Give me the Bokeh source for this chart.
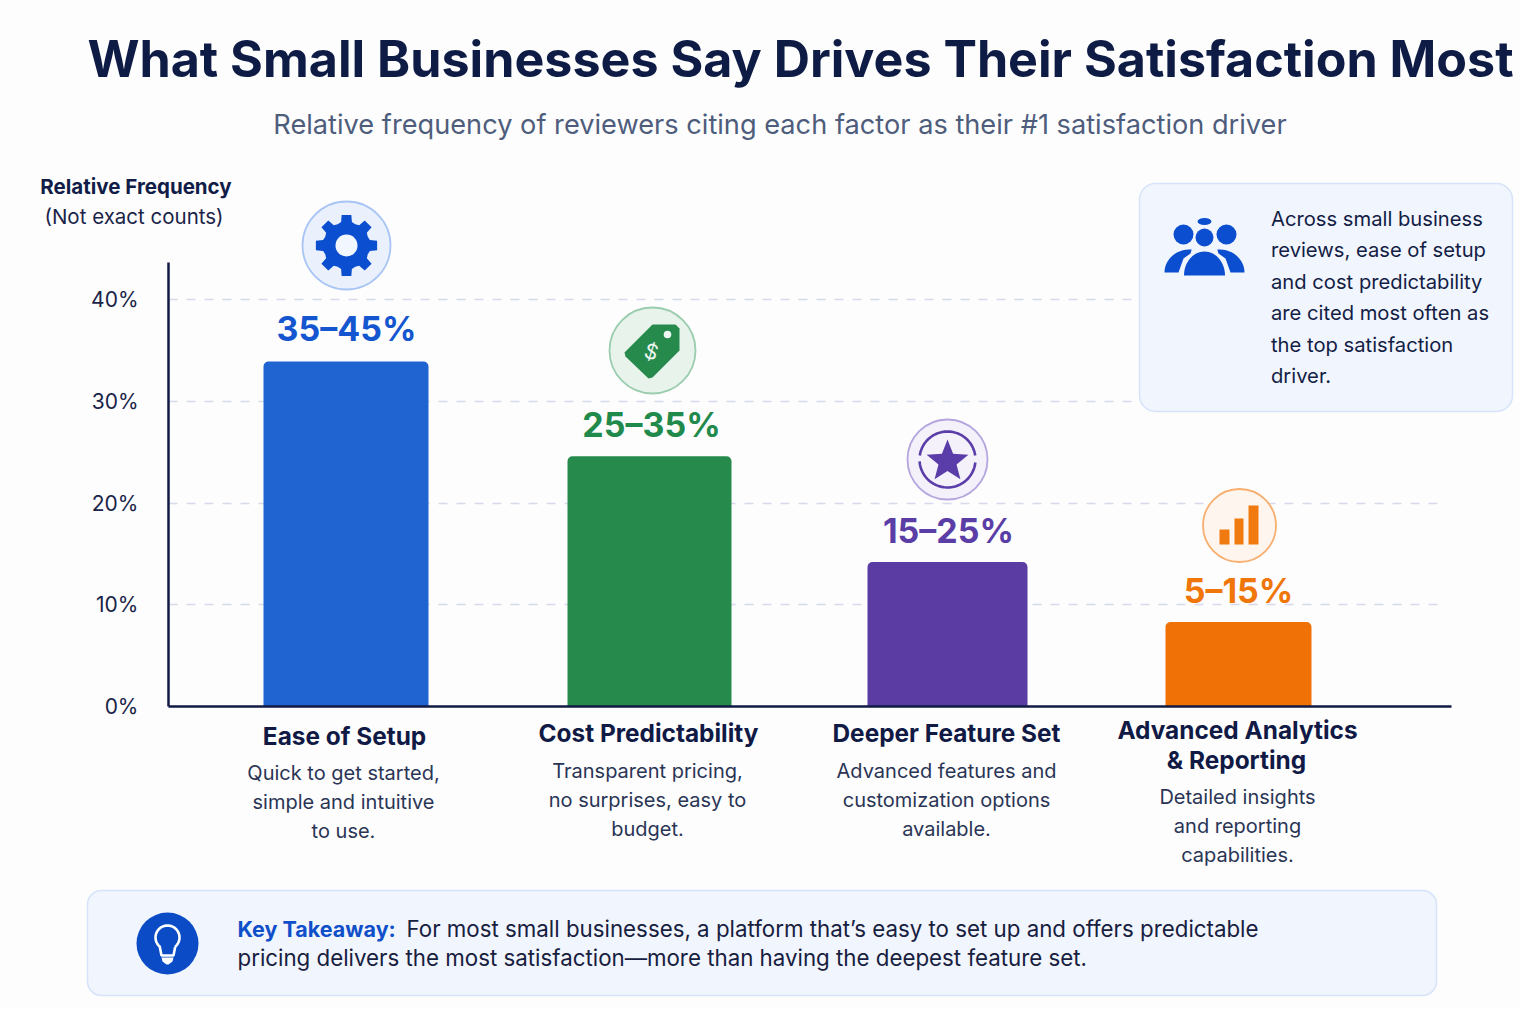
import math
from bokeh.plotting import figure
from bokeh.embed import file_html
from bokeh.resources import INLINE
from bokeh.core.properties import value
from bokeh.models import FixedTicker, PrintfTickFormatter, Range1d

categories = ["Ease of Setup", "Cost Predictability", "Deeper Feature Set", "Advanced Analytics"]
bar_values = [33.9, 24.6, 14.2, 8.3]
range_labels = ["35–45%", "25–35%", "15–25%", "5–15%"]
bar_colors = ["#1f64d0", "#268a4c", "#5a3ca2", "#f07207"]
label_colors = ["#1456cf", "#1f8a4c", "#5a3ea6", "#f0760a"]
y_ticks = [0, 10, 20, 30, 40]
grid_ticks = [10, 20, 30, 40]
descriptions = [
    ["Quick to get started,", "simple and intuitive", "to use."],
    ["Transparent pricing,", "no surprises, easy to", "budget."],
    ["Advanced features and", "customization options", "available."],
    ["Detailed insights", "and reporting", "capabilities."],
]
callout_lines = ["Across small business", "reviews, ease of setup", "and cost predictability",
                 "are cited most often as", "the top satisfaction", "driver."]

FONT = "Inter"
INK = "#101a45"
BLUE = "#0b4fd0"
ZERO_PX, PX_PER_UNIT = 706.0, 10.175
def Y(px):
    return (ZERO_PX - px) / PX_PER_UNIT

p = figure(width=1520, height=1008, output_backend="svg", toolbar_location=None,
           x_range=Range1d(0, 1520), y_range=Range1d(Y(1008), Y(0)), min_border=0)
p.background_fill_color = "#fdfdfe"
p.border_fill_color = "#fdfdfe"
p.outline_line_color = None
p.xgrid.visible = False
p.ygrid.ticker = FixedTicker(ticks=grid_ticks)
p.ygrid.grid_line_color = "#d6daea"
p.ygrid.grid_line_dash = "9 9"
p.ygrid.grid_line_width = 1.5
p.ygrid.cross_bounds = (168, 1438)

p.yaxis.fixed_location = 168
p.yaxis.bounds = (0, Y(262))
p.yaxis.ticker = FixedTicker(ticks=y_ticks)
p.yaxis.formatter = PrintfTickFormatter(format="%d%%")
p.yaxis.major_tick_line_color = None
p.yaxis.minor_tick_line_color = None
p.yaxis.major_label_standoff = 24
p.yaxis.major_label_text_font = FONT
p.yaxis.major_label_text_font_size = "21px"
p.yaxis.major_label_text_color = "#1a2448"
p.yaxis.axis_line_color = INK
p.yaxis.axis_line_width = 2.5

p.xaxis.fixed_location = 0
p.xaxis.bounds = (168, 1451)
p.xaxis.ticker = FixedTicker(ticks=[])
p.xaxis.major_tick_line_color = None
p.xaxis.minor_tick_line_color = None
p.xaxis.axis_line_color = INK
p.xaxis.axis_line_width = 2.5


def txt(x, ypx, s, size, color, weight="normal", align="center", angle=0, style=None):
    fs = style or weight
    p.text(x=[x], y=[Y(ypx - 1)], text=[s], text_font=value(FONT), text_font_size=f"{size}px",
           text_color=color, text_font_style=fs, text_align=align, text_baseline="middle", angle=angle)


def box(l, r, t, b, radius):
    p.quad(left=[l], right=[r], top=[Y(t)], bottom=[Y(b)], fill_color="#f1f5fd",
           line_color="#d6e3f9", line_width=1.5, border_radius=radius)


def poly(pts, color):
    p.patch([a for a, _ in pts], [Y(b) for _, b in pts], fill_color=color, line_color=None)


def ring(cx, cy, r, fill, stroke, width=1.8):
    p.circle([cx], [Y(cy)], radius=r, fill_color=fill, line_color=stroke, line_width=width)


def arc_pts(cx, cy, rx, ry, a0, a1, n=30):
    return [(cx + rx * math.cos(math.radians(a0 + (a1 - a0) * i / n)),
             cy - ry * math.sin(math.radians(a0 + (a1 - a0) * i / n))) for i in range(n + 1)]


# panels
box(1139, 1512, 183, 411, 16)
box(87, 1436, 890, 995, 14)

# bars
bar_x = [345.5, 649, 947, 1238]
bar_w = [165, 164, 160, 146]
p.vbar(x=bar_x, top=bar_values, bottom=0, width=bar_w, fill_color=bar_colors, line_color=None,
       border_radius=(5, 5, 0, 0))

# heading texts
txt(800, 59, "What Small Businesses Say Drives Their Satisfaction Most", 50.2, "#0d1b45", "bold")
txt(779.5, 125, "Relative frequency of reviewers citing each factor as their #1 satisfaction driver", 27.2, "#4f5d7c")
txt(135.5, 187, "Relative Frequency", 20.5, "#111d47", "bold")
txt(133.5, 217, "(Not exact counts)", 20.5, "#1a2448")

# value labels
range_y = [329, 425, 531, 591]
range_x = [346, 651, 948, 1238]
for i in range(4):
    txt(range_x[i], range_y[i], range_labels[i], 34, label_colors[i], "bold")

# category labels
cat_x = [344, 648, 946, 1237]
cat_y = [736, 733, 733, 730]
for i in range(4):
    txt(cat_x[i], cat_y[i], categories[i], 24.4, INK, "bold")
txt(1236, 760, "& Reporting", 24.4, INK, "bold")
desc_x = [343, 647, 946, 1237]
desc_y = [773, 771, 771, 797]
for i in range(4):
    for j, line in enumerate(descriptions[i]):
        txt(desc_x[i], desc_y[i] + j * 29, line, 20, "#2a3555")

# callout text
for j, line in enumerate(callout_lines):
    txt(1270.5, 219 + j * 31.4, line, 20.2, "#131d45", align="left")

# takeaway
txt(237, 929, "Key Takeaway:", 21.5, "#0f4fc9", "bold", "left")
txt(406, 929, "For most small businesses, a platform that’s easy to set up and offers predictable", 22.3, "#17203f", align="left")
txt(237, 958, "pricing delivers the most satisfaction—more than having the deepest feature set.", 22.3, "#17203f", align="left")

# gear icon
ring(346, 245, 44, "#eaf1fd", "#a9c5f5")
gear = []
for k in range(8):
    c = 90 + k * 45
    for off, r in [(-22.5, 23), (-13, 24), (-9, 31), (9, 31), (13, 24)]:
        a = math.radians(c + off)
        gear.append((346 + r * math.cos(a), 245 - r * math.sin(a)))
poly(gear, BLUE)
ring(346, 245, 11, "#f2f6fe", None, 0)

# tag icon
ring(652, 350, 43, "#e8f3ec", "#9accae")
poly([(652, 324), (675, 324), (679, 328), (679, 350), (652, 377), (648, 378), (625, 356), (624, 352)], "#268a4c")
ring(667, 334, 3.8, "#eef7f1", None, 0)
txt(651, 352, "$", 21, "#eef7f1", "normal", angle=-0.3)

# star icon
ring(947, 459, 40, "#f4f1fb", "#b5a5de")
PURPLE = "#5a3da8"
p.line(*zip(*[(a, Y(b)) for a, b in arc_pts(947, 459, 28, 28, 8, 172)]), line_color=PURPLE, line_width=2.6)
p.line(*zip(*[(a, Y(b)) for a, b in arc_pts(947, 459, 28, 28, 184, 354)]), line_color=PURPLE, line_width=2.6)
star = []
for k in range(10):
    r = 22 if k % 2 == 0 else 9.5
    a = math.radians(90 + 36 * k)
    star.append((947 + r * math.cos(a), 461 - r * math.sin(a)))
poly(star, PURPLE)

# bars icon
ring(1239, 525, 36.5, "#fef6ee", "#f7ae6e")
for l, r, t in [(1219, 1229, 529), (1234, 1243, 518), (1248, 1258, 505)]:
    p.quad(left=[l], right=[r], top=[Y(t)], bottom=[Y(544)], fill_color="#f07a10", line_color=None)

# people icon
p.ellipse([1204], [Y(221)], width=14, height=7 / PX_PER_UNIT, fill_color=BLUE, line_color=None)
ring(1204, 237, 9, BLUE, None, 0)
ring(1183, 234, 10, BLUE, None, 0)
ring(1226, 234, 10, BLUE, None, 0)
ring(1204, 237, 11, "#f1f5fd", None, 0)
ring(1204, 237, 9, BLUE, None, 0)
poly(arc_pts(1204, 275, 20.5, 24, 0, 180), BLUE)
poly(arc_pts(1189, 272, 25, 23, 180, 85, 14) + [(1190, 253), (1183, 258), (1178, 272)], BLUE)
poly(arc_pts(1219, 272, 25, 23, 0, 95, 14) + [(1218, 253), (1225, 258), (1230, 272)], BLUE)

# bulb icon
ring(167, 943, 31, "#0b4cc6", None, 0)
bulb = arc_pts(167, 937, 12, 12, -50, 230) + [(161, 955), (173, 955)]
bulb.append(bulb[0])
p.line(*zip(*[(a, Y(b)) for a, b in bulb]), line_color="#ffffff", line_width=2.6)
poly([(161, 957), (173, 957), (172, 961), (168, 964), (166, 964), (162, 961)], "#ffffff")

open("out.html", "w").write(file_html(p, INLINE))
